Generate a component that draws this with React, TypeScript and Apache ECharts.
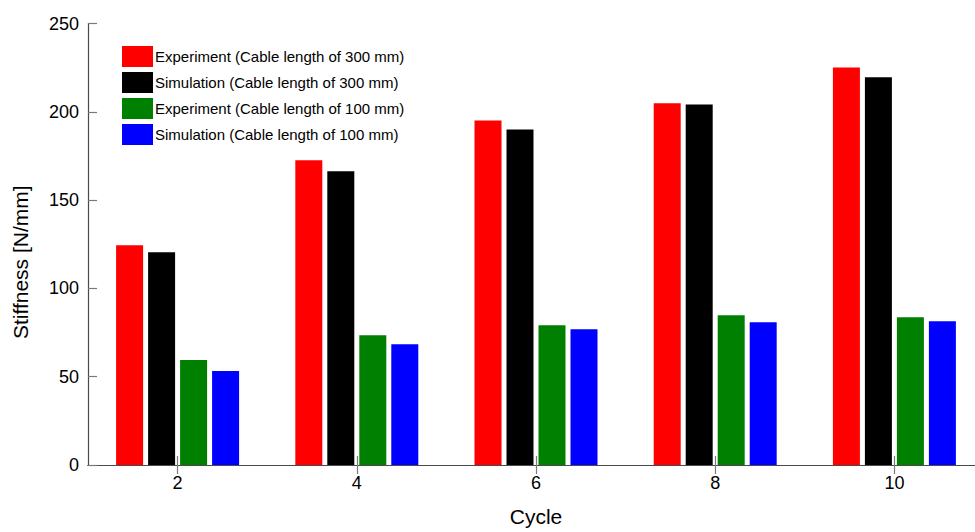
import React, { useEffect, useRef } from "react";
import * as echarts from "echarts";

const cycles = ["2", "4", "6", "8", "10"];
const expLong = [124.4, 172.5, 195.1, 204.8, 225.1];
const simLong = [120.5, 166.3, 190.0, 204.2, 219.5];
const expShort = [59.4, 73.5, 79.2, 84.8, 83.7];
const simShort = [53.2, 68.4, 76.9, 80.9, 81.4];
const seriesNames = [
  "Experiment (Cable length of 300 mm)",
  "Simulation (Cable length of 300 mm)",
  "Experiment (Cable length of 100 mm)",
  "Simulation (Cable length of 100 mm)",
];
const seriesColors = ["#ff0000", "#000000", "#008000", "#0000ff"];
const yTicks = [0, 50, 100, 150, 200, 250];

const FONT = "Liberation Sans, Arial, Helvetica, sans-serif";

export default function App() {
  const ref = useRef<HTMLDivElement>(null);
  useEffect(() => {
    if (!ref.current) return;
    const chart = echarts.init(ref.current, undefined, { renderer: "svg" });
    const data = [expLong, simLong, expShort, simShort];
    const axisLine = { show: true, lineStyle: { color: "#4a4a4a", width: 1.2 } };
    const tick = { show: true, inside: true, length: 9, lineStyle: { color: "#7a7a7a", width: 1.2 } };
    chart.setOption({
      animation: false,
      backgroundColor: "#ffffff",
      textStyle: { fontFamily: FONT },
      grid: { left: 88, right: 6, top: 23.5, bottom: 67, containLabel: false },
      legend: {
        orient: "vertical",
        left: 117,
        top: 41,
        itemWidth: 31,
        itemHeight: 21,
        itemGap: 5,
        icon: "rect",
        data: seriesNames,
        textStyle: { fontSize: 15, color: "#000", fontFamily: FONT, padding: [0, 0, 0, -3] },
      },
      xAxis: [
        {
          type: "category",
          data: cycles,
          position: "bottom",
          axisLine,
          axisTick: { ...tick, alignWithLabel: true },
          axisLabel: { fontSize: 18, color: "#000", margin: 9, fontFamily: FONT },
          name: "Cycle",
          nameLocation: "middle",
          nameGap: 41,
          nameTextStyle: { fontSize: 21, color: "#000", fontFamily: FONT },
          splitLine: { show: false },
        },
        {
          type: "category",
          data: cycles,
          position: "top",
          axisLine,
          axisTick: { ...tick, alignWithLabel: true },
          axisLabel: { show: false },
          splitLine: { show: false },
        },
      ],
      yAxis: [
        {
          type: "value",
          min: yTicks[0],
          max: yTicks[yTicks.length - 1],
          interval: 50,
          position: "left",
          axisLine,
          axisTick: tick,
          axisLabel: { fontSize: 18, color: "#000", margin: 9, fontFamily: FONT },
          splitLine: { show: false },
          name: "Stiffness [N/mm]",
          nameLocation: "middle",
          nameGap: 57,
          nameTextStyle: { fontSize: 21, color: "#000", fontFamily: FONT, padding: [0, 36, 0, 0] },
        },
        {
          type: "value",
          min: yTicks[0],
          max: yTicks[yTicks.length - 1],
          interval: 50,
          position: "right",
          axisLine,
          axisTick: tick,
          axisLabel: { show: false },
          splitLine: { show: false },
        },
      ],
      series: seriesNames.map((name, i) => ({
        name,
        type: "bar",
        data: data[i],
        xAxisIndex: 0,
        yAxisIndex: 0,
        barWidth: 27,
        barGap: "18.5%",
        itemStyle: { color: seriesColors[i] },
      })),
    });
    return () => chart.dispose();
  }, []);
  return (
    <div style={{ position: "fixed", left: 0, top: 0, width: 975, height: 532, overflow: "hidden", background: "#fff" }}>
      <div ref={ref} style={{ width: 990, height: 532 }} />
    </div>
  );
}
